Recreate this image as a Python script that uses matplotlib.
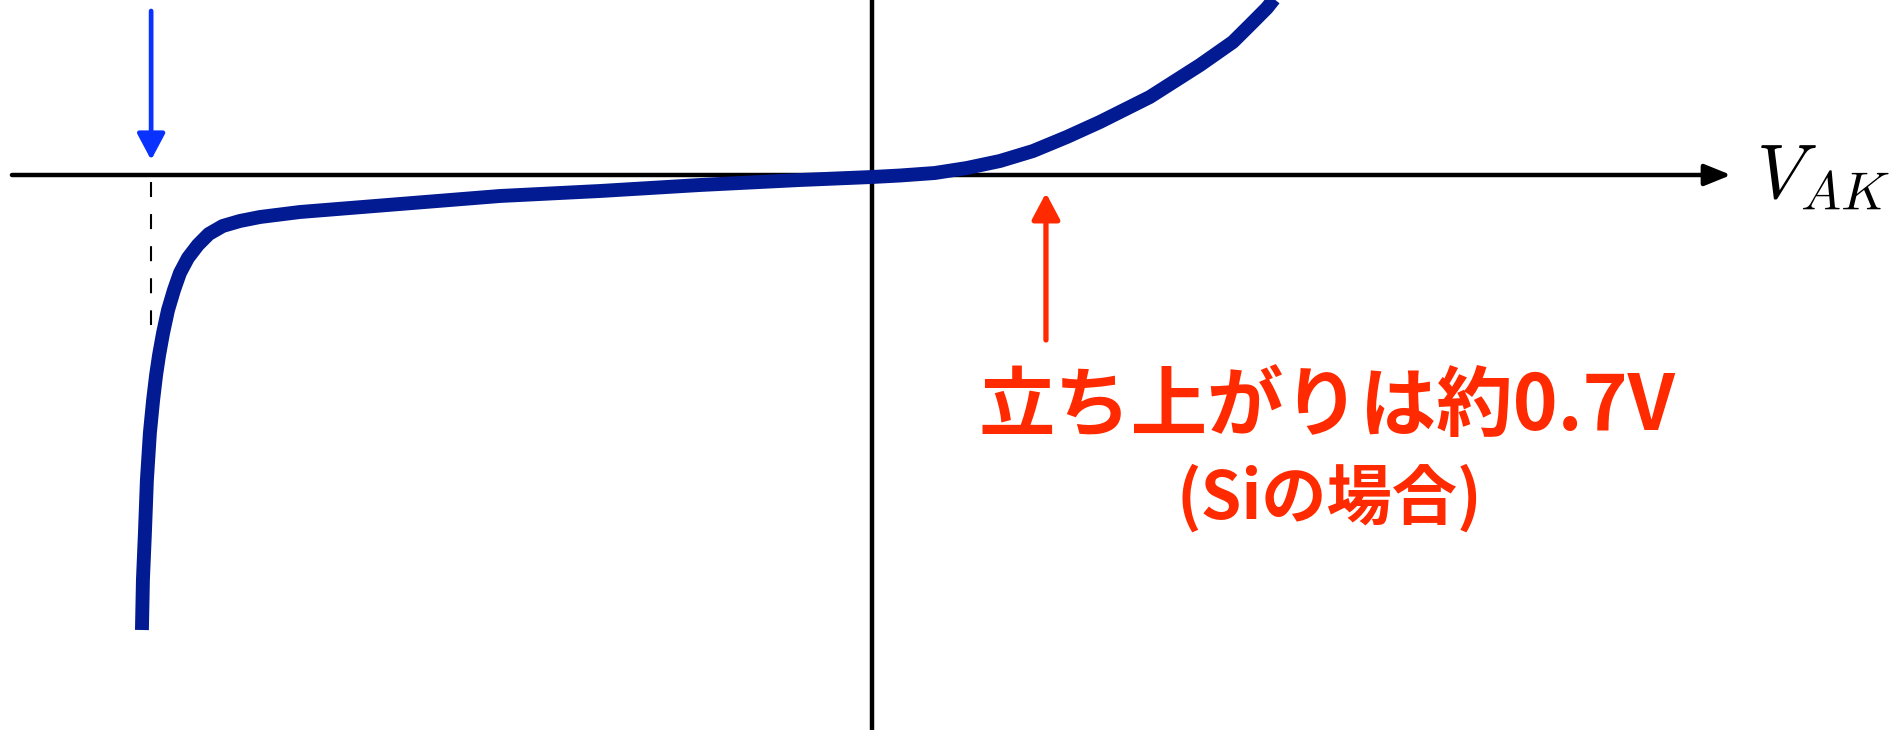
import matplotlib
matplotlib.use('Agg')
import matplotlib.pyplot as plt
from matplotlib.patches import FancyArrowPatch

# diode I-V curve (V in volts, I in arbitrary units)
v_curve = [-2.937, -2.933, -2.925, -2.917, -2.905, -2.892, -2.880, -2.868, -2.852,
           -2.832, -2.808, -2.784, -2.752, -2.712, -2.668, -2.612, -2.543, -2.462,
           -2.301, -2.100, -1.899, -1.497, -1.094, -0.692, -0.290, 0.000,
           0.113, 0.253, 0.382, 0.515, 0.648, 0.784, 0.917, 1.118, 1.320,
           1.452, 1.521, 1.589, 1.621]
i_curve = [-45.5, -40.5, -35.8, -30.5, -25.8, -22.5, -20.0, -18.0, -15.8,
           -13.5, -11.5, -9.8, -8.3, -7.0, -5.9, -5.1, -4.6, -4.2,
           -3.7, -3.3, -2.9, -2.1, -1.6, -1.0, -0.5, -0.2,
           -0.05, 0.2, 0.7, 1.4, 2.4, 3.8, 5.3, 7.8, 11.0,
           13.3, 15.0, 16.7, 17.7]

v_breakdown = -2.90
v_threshold = 0.70
dash_i = [-0.7, -15.0]
blue_arrow_i = [16.4, 1.5]
red_arrow_i = [-16.5, -1.8]
axis_v = [-3.46, 3.456]

label_main = '立ち上がりは約0.7V'
label_sub = '(Siの場合)'
label_axis = r'$V_{AK}$'

plt.rcParams['mathtext.fontset'] = 'cm'
jp_font = ['Noto Sans CJK JP', 'DejaVu Sans']

blue = '#0a32ff'
red = '#ff2a00'
navy = '#021a92'

fig = plt.figure(figsize=(19.03, 7.30), dpi=100)
ax = fig.add_axes([0, 0, 1, 1])
ax.set_xlim(-3.508, 4.148)
ax.set_ylim(-55.5, 17.5)
ax.axis('off')

# axes
ax.axvline(0, color='black', lw=3.2, zorder=1)
ax.add_patch(FancyArrowPatch((axis_v[0], 0), (axis_v[1], 0),
                             arrowstyle='-|>,head_length=16,head_width=6.5',
                             mutation_scale=1, lw=3.2, color='black',
                             shrinkA=0, shrinkB=0, zorder=1))
ax.text(3.555, -2.3, label_axis, fontsize=55, ha='left', va='baseline')

# breakdown marker
ax.plot([v_breakdown, v_breakdown], dash_i, color='black', lw=1.5,
        ls=(0, (7.2, 8.2)), zorder=1)
ax.add_patch(FancyArrowPatch((v_breakdown, blue_arrow_i[0]), (v_breakdown, blue_arrow_i[1]),
                             arrowstyle='-|>,head_length=16,head_width=8.5',
                             mutation_scale=1, lw=3.4, color=blue,
                             shrinkA=0, shrinkB=0, zorder=2))

# curve
ax.plot(v_curve, i_curve, color=navy, lw=10, solid_capstyle='butt',
        solid_joinstyle='round', zorder=3)

# threshold annotation
ax.add_patch(FancyArrowPatch((v_threshold, red_arrow_i[0]), (v_threshold, red_arrow_i[1]),
                             arrowstyle='-|>,head_length=16,head_width=8.5',
                             mutation_scale=1, lw=3.8, color=red,
                             shrinkA=0, shrinkB=0, zorder=2))
ax.text(1.83, -25.5, label_main, fontsize=55, fontweight='bold', family=jp_font,
        color=red, ha='center', va='baseline')
ax.text(1.84, -34.4, label_sub, fontsize=47, fontweight='bold', family=jp_font,
        color=red, ha='center', va='baseline')

fig.savefig('out.png', dpi=100)
